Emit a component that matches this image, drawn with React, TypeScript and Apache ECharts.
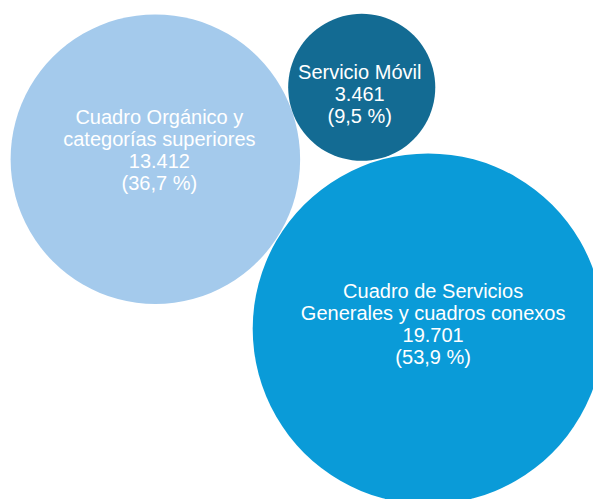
import React, { useEffect, useRef } from "react";
import * as echarts from "echarts";

// Data
const categories = [
  "Cuadro Orgánico y\ncategorías superiores",
  "Servicio Móvil",
  "Cuadro de Servicios\nGenerales y cuadros conexos",
];
const values = [13412, 3461, 19701];
// packed-bubble layout positions (percent of plot width / height)
const layoutX = [26.2, 61.0, 72.2];
const layoutY = [31.9, 17.5, 65.9];

const colors = ["#A4CAEC", "#136B93", "#0A9BD8"];
const labelOffsets = [
  [4, -9],
  [-2, 7],
  [5, -5],
];
const SIZE_K = 2.5; // diameter = SIZE_K * sqrt(value)

const fmtInt = (n: number) =>
  String(n).replace(/\B(?=(\d{3})+(?!\d))/g, ".");

export default function App() {
  const ref = useRef<HTMLDivElement>(null);
  useEffect(() => {
    if (!ref.current) return;
    const chart = echarts.init(ref.current, undefined, { renderer: "svg" });
    const total = values.reduce((a, b) => a + b, 0);
    chart.setOption({
      animation: false,
      backgroundColor: "#ffffff",
      grid: { left: 0, right: 0, top: 0, bottom: 0 },
      xAxis: { type: "value", min: 0, max: 100, show: false },
      yAxis: { type: "value", min: 0, max: 100, inverse: true, show: false },
      series: [
        {
          type: "scatter",
          symbol: "circle",
          symbolSize: (val: number[]) => SIZE_K * Math.sqrt(val[2]),
          data: categories.map((name, i) => ({
            name,
            value: [layoutX[i], layoutY[i], values[i]],
            itemStyle: { color: colors[i], opacity: 1 },
            label: { offset: labelOffsets[i] },
          })),
          label: {
            show: true,
            position: "inside",
            color: "#ffffff",
            fontFamily: "Liberation Sans, Arial, sans-serif",
            fontSize: 20,
            lineHeight: 22,
            align: "center",
            formatter: (p: any) => {
              const v = p.value[2];
              const pct = ((v / total) * 100).toFixed(1).replace(".", ",");
              return `${p.name}\n${fmtInt(v)}\n(${pct} %)`;
            },
          },
          emphasis: { disabled: true },
        },
      ],
    });
    return () => chart.dispose();
  }, []);
  return (
    <div
      ref={ref}
      style={{ position: "fixed", left: 0, top: 0, width: 593, height: 499 }}
    />
  );
}
